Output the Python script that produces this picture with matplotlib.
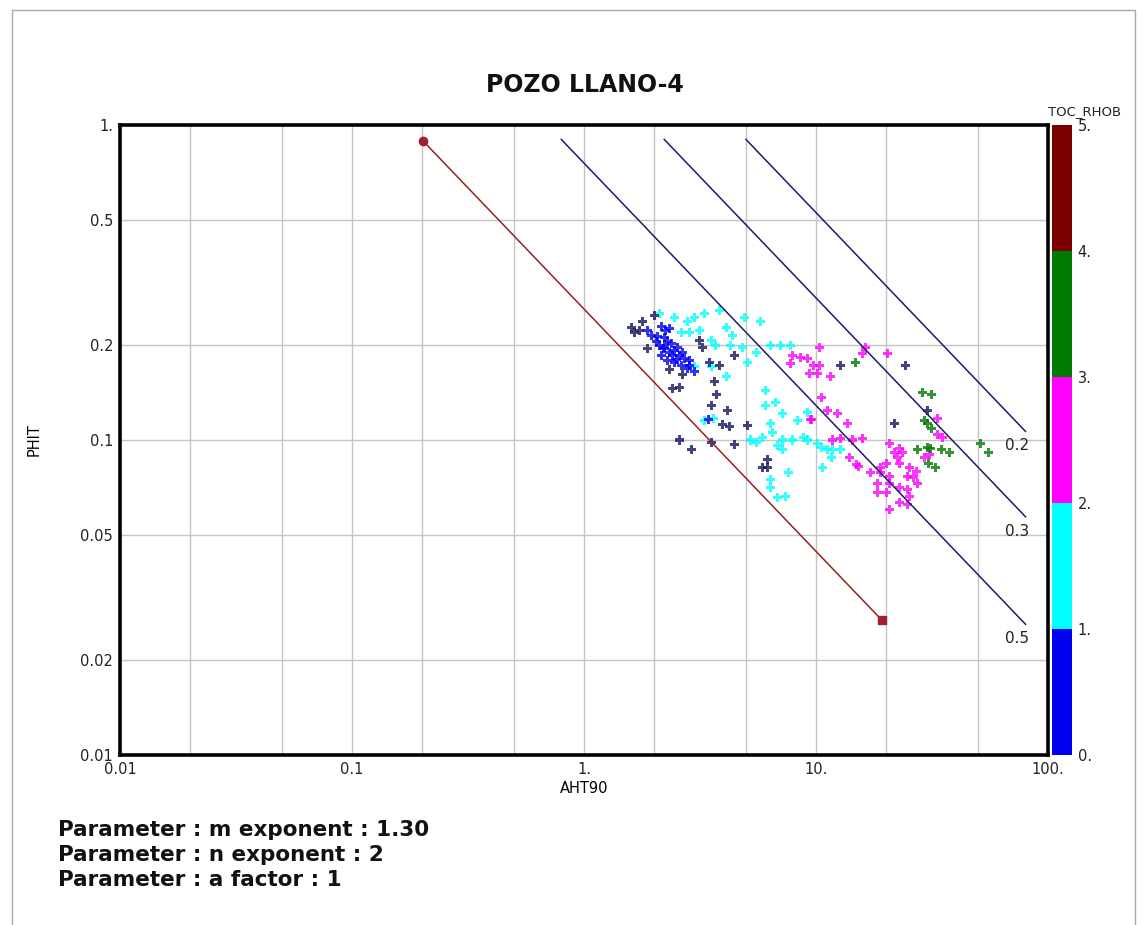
import numpy as np
import matplotlib
matplotlib.use("Agg")
import matplotlib.pyplot as plt
import matplotlib.cm as cm
from matplotlib.colors import ListedColormap, BoundaryNorm
from matplotlib.patches import Rectangle

plt.rcParams['font.family'] = ['DejaVu Sans']

# Archie parameters (printed under the plot)
M_EXP = 1.30
N_EXP = 2
A_FACT = 1
RW = 0.174
SW_LINES = [0.5, 0.3, 0.2]
PHI_TOP = 0.9
RT_END = 80.0
wet_rt = [0.202, 19.2]          # ends of the Sw=1 line

# TOC_RHOB classes
toc_class = [-0.5, 0.5, 1.5, 2.5, 3.5]   # navy (below 0), blue, cyan, magenta, green

navy_aht = [1.79, 2.02, 1.65, 1.74, 1.60, 1.88, 2.34, 2.67, 3.15, 3.25, 3.48, 3.84, 3.66, 2.41, 2.59,
            4.46, 3.73, 3.55, 4.14, 3.94, 4.24, 5.05, 2.59, 3.55, 4.46, 2.92, 6.15, 5.9, 6.2, 30.1,
            12.7, 24.2, 21.9]
navy_phit = [0.237, 0.249, 0.219, 0.223, 0.227, 0.195, 0.167, 0.161, 0.207, 0.197, 0.176, 0.173, 0.153, 0.146, 0.147,
             0.186, 0.139, 0.129, 0.124, 0.112, 0.110, 0.111, 0.100, 0.098, 0.097, 0.093, 0.0865, 0.0816, 0.0816, 0.124,
             0.173, 0.173, 0.113]

blue_aht = [2.16, 2.25, 2.34, 2.12, 2.23, 2.34, 2.46, 2.59, 2.72, 2.16, 2.29, 2.46, 2.64, 2.78, 2.39,
            2.54, 2.86, 2.23, 2.08, 1.96, 1.88, 3.44, 2.05, 2.40, 2.50, 2.20, 2.65, 2.30, 3.00, 2.85]
blue_phit = [0.229, 0.223, 0.226, 0.200, 0.196, 0.190, 0.193, 0.186, 0.182, 0.186, 0.179, 0.176, 0.173, 0.169, 0.203,
             0.197, 0.179, 0.211, 0.213, 0.215, 0.223, 0.116, 0.205, 0.185, 0.180, 0.195, 0.190, 0.205, 0.165, 0.172]

cyan_aht = [2.12, 2.46, 2.78, 3.0, 2.64, 2.86, 3.15, 3.55, 4.1, 4.35, 3.0, 3.55, 4.1, 5.05, 5.55, 4.9, 5.74,
            6.34, 7.0, 7.73, 3.84, 3.31, 3.7, 4.3, 4.8,
            6.03, 6.03, 6.66, 7.2, 8.3, 9.2, 6.34, 6.47, 5.9, 6.8, 7.14, 7.2, 7.9, 8.8, 10.1, 10.6, 11.2,
            11.8, 11.7, 7.6, 6.34, 6.34, 6.8, 7.36, 10.7, 5.2, 5.55, 9.2, 12.7, 3.6, 3.31]
cyan_phit = [0.253, 0.245, 0.237, 0.244, 0.219, 0.219, 0.223, 0.207, 0.228, 0.215, 0.171, 0.171, 0.159, 0.176, 0.189, 0.244, 0.237,
             0.2, 0.2, 0.2, 0.258, 0.253, 0.2, 0.2, 0.197,
             0.144, 0.129, 0.132, 0.121, 0.1157, 0.122, 0.113, 0.106, 0.102, 0.0964, 0.093, 0.1, 0.1, 0.102, 0.0977, 0.095, 0.093,
             0.093, 0.088, 0.079, 0.0747, 0.0707, 0.0657, 0.066, 0.0819, 0.1, 0.098, 0.1, 0.093, 0.117, 0.115]

mag_aht = [7.9, 8.54, 9.2, 9.8, 7.73, 10.1, 10.4, 10.4, 11.5, 9.4, 20.4, 15.8, 16.3, 10.6, 11.2, 9.43, 33.3, 33.3,
           35.2, 12.7, 14.4, 15.8, 11.8, 9.6, 12.4, 13.7, 14.0, 15.2, 15.0, 17.1,
           20.8, 23.0, 21.9, 23.6, 22.4, 20.2, 23.0, 25.4, 27.2, 24.7, 26.2, 18.9, 20.8, 18.5, 20.8, 23.0, 18.9,
           18.5, 20.2, 24.7, 25.4, 23.0, 24.7, 20.8, 27.5, 29.5, 31.0]
mag_phit = [0.186, 0.183, 0.181, 0.173, 0.175, 0.163, 0.196, 0.173, 0.159, 0.163, 0.188, 0.188, 0.196, 0.136, 0.124, 0.116, 0.117, 0.104,
            0.102, 0.101, 0.1, 0.101, 0.1, 0.116, 0.121, 0.113, 0.0877, 0.0826, 0.0837, 0.079,
            0.0977, 0.094, 0.091, 0.091, 0.088, 0.0844, 0.0844, 0.082, 0.0792, 0.0764, 0.0758, 0.0786, 0.0764, 0.0729, 0.0729, 0.0707, 0.082,
            0.0679, 0.0679, 0.0695, 0.0661, 0.0632, 0.0623, 0.06, 0.0729, 0.0877, 0.0897]

green_aht = [14.8, 28.7, 31.6, 29.5, 30.1, 31.6, 27.5, 30.1, 31.3, 34.6, 37.8, 51.3, 55.3, 30.5, 32.6]
green_phit = [0.176, 0.141, 0.139, 0.1157, 0.113, 0.109, 0.093, 0.095, 0.094, 0.093, 0.091, 0.0977, 0.091, 0.0844, 0.082]

x_ticks = [0.01, 0.1, 1, 10, 100]
x_labels = ['0.01', '0.1', '1.', '10.', '100.']
y_ticks = [0.01, 0.02, 0.05, 0.1, 0.2, 0.5, 1]
y_labels = ['0.01', '0.02', '0.05', '0.1', '0.2', '0.5', '1.']
cb_ticks = [0, 1, 2, 3, 4, 5]
cb_labels = ['0.', '1.', '2.', '3.', '4.', '5.']

W, H = 1147, 925
fig = plt.figure(figsize=(W / 100, H / 100), dpi=100)
ax = fig.add_axes([120 / W, 1 - 755 / H, 928 / W, 630 / H])
cax = fig.add_axes([1052 / W, 1 - 755 / H, 20 / W, 630 / H])

cmap = ListedColormap(['#0000f0', '#00ffff', '#ff00ff', '#007a00', '#7a0000'])
cmap.set_under('#16165e')
norm = BoundaryNorm([0, 1, 2, 3, 4, 5], cmap.N)

# grid
ax.set_xscale('log')
ax.set_yscale('log')
ax.set_xlim(0.01, 100)
ax.set_ylim(0.01, 1)
ax.set_xticks(x_ticks)
ax.set_xticklabels(x_labels)
ax.set_yticks(y_ticks)
ax.set_yticklabels(y_labels)
ax.set_xticks([v * k for v in [0.01, 0.1, 1, 10] for k in (2, 5)], minor=True)
ax.set_xticklabels([], minor=True)
ax.set_yticks([], minor=True)
ax.grid(True, which='both', color='#c4c4c4', linewidth=1)
ax.set_axisbelow(True)
ax.tick_params(which='both', length=0, labelsize=10.5, labelcolor='#222222', pad=5)
for s in ax.spines.values():
    s.set_linewidth(2.6)

# points, drawn class by class
groups = [(cyan_aht, cyan_phit, toc_class[2]), (mag_aht, mag_phit, toc_class[3]),
          (green_aht, green_phit, toc_class[4]), (blue_aht, blue_phit, toc_class[1]),
          (navy_aht, navy_phit, toc_class[0])]
for xs, ys, toc in groups:
    ax.scatter(xs, ys, c=[toc] * len(xs), cmap=cmap, norm=norm, marker='P',
               s=42, linewidths=0, alpha=0.8, zorder=3)

# Sw = 1 line
wet_rt = np.array(wet_rt)
wet_phi = (A_FACT * RW / wet_rt) ** (1 / M_EXP)
ax.plot(wet_rt, wet_phi, color='#9a2020', lw=1.1, zorder=4)
ax.plot(wet_rt[:1], wet_phi[:1], 'o', ms=6, color='#a02030', zorder=5)
ax.plot(wet_rt[1:], wet_phi[1:], 's', ms=6, color='#a02030', zorder=5)

# Sw lines
for sw in SW_LINES:
    rt0 = A_FACT * RW / (PHI_TOP ** M_EXP * sw ** N_EXP)
    rt = np.array([rt0, RT_END])
    phi = (A_FACT * RW / (rt * sw ** N_EXP)) ** (1 / M_EXP)
    ax.plot(rt, phi, color='#1c1c6c', lw=1.1, zorder=4)
    ax.annotate('%.1f' % sw, (RT_END, phi[-1]), xytext=(-6, -5), textcoords='offset points',
                ha='center', va='top', fontsize=11, color='#222222')

ax.set_xlabel('AHT90', fontsize=10.5, labelpad=3)
ax.set_ylabel('PHIT', fontsize=10.5, labelpad=28)
fig.text(585 / W, 1 - 85 / H, 'POZO LLANO-4', ha='center', va='center', fontsize=17,
         fontweight='bold', color='#111111')

sm = cm.ScalarMappable(norm=norm, cmap=cmap)
cb = fig.colorbar(sm, cax=cax, ticks=cb_ticks)
cb.ax.set_yticklabels(cb_labels)
cb.ax.tick_params(length=0, labelsize=10.5, labelcolor='#222222', pad=4)
cb.outline.set_visible(False)
fig.text(1085 / W, 1 - 112 / H, 'TOC_RHOB', ha='center', va='center', fontsize=9.5, color='#222222')

params = ['Parameter : m exponent : %.2f' % M_EXP,
          'Parameter : n exponent : %d' % N_EXP,
          'Parameter : a factor : %d' % A_FACT]
for i, t in enumerate(params):
    fig.text(58 / W, 1 - (830 + 25 * i) / H, t, ha='left', va='center', fontsize=15.5,
             fontweight='bold', color='#111111')

fig.add_artist(Rectangle((12 / W, -0.05), (1135 - 12) / W, 1.05 - 10 / H, transform=fig.transFigure,
                         fill=False, edgecolor='#a8a8a8', lw=1))

fig.savefig('out.png', dpi=100)
